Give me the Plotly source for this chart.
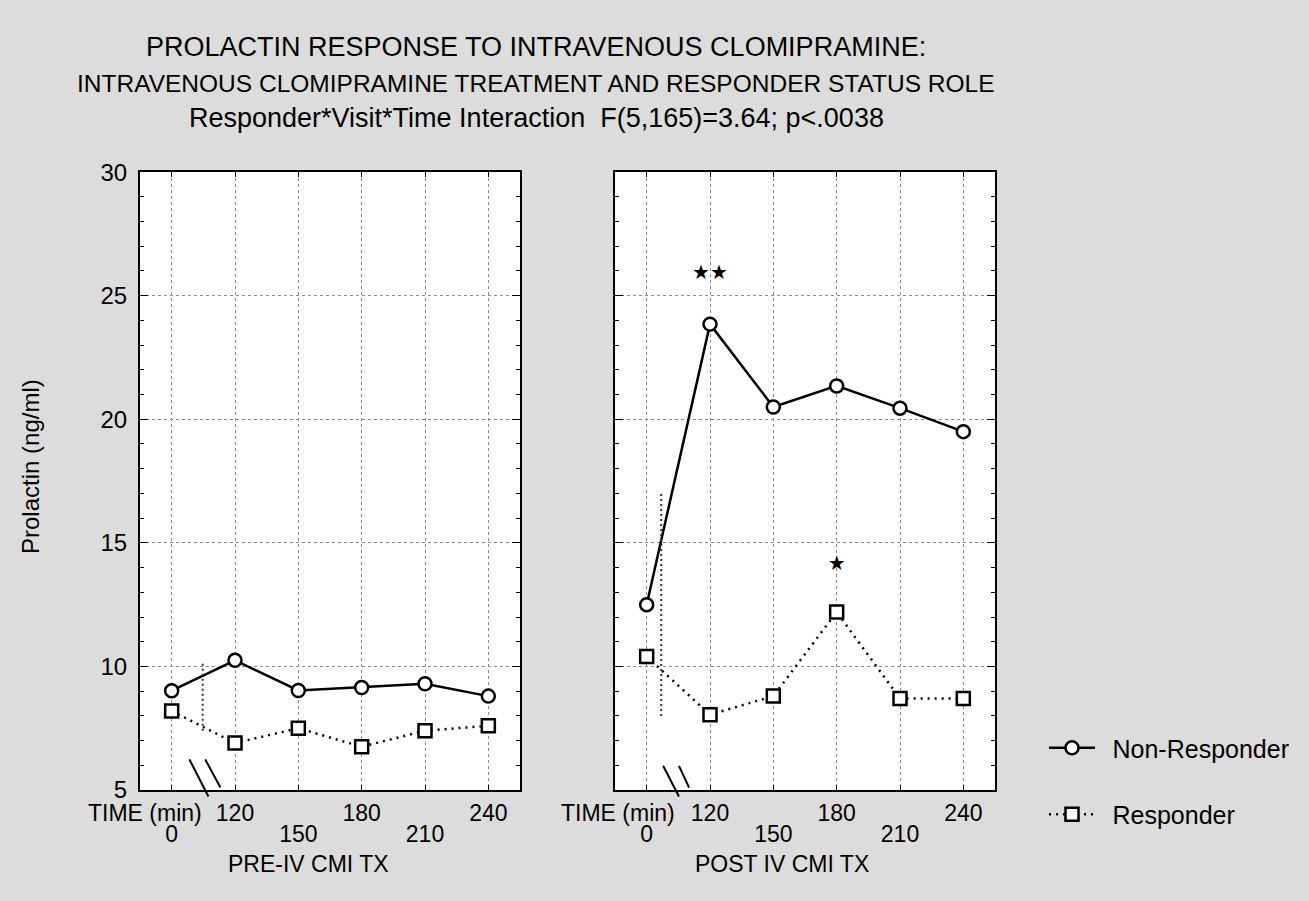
import plotly.graph_objects as go

# ---------------- data ----------------
times = [0, 120, 150, 180, 210, 240]
pre_non_responder = [9.02, 10.25, 9.03, 9.15, 9.3, 8.8]
pre_responder = [8.2, 6.9, 7.5, 6.75, 7.4, 7.6]
post_non_responder = [12.5, 23.85, 20.5, 21.35, 20.45, 19.5]
post_responder = [10.4, 8.05, 8.8, 12.2, 8.7, 8.7]

sig_times = [120, 180]
sig_values = [25.86, 14.1]
sig_text = ["★★", "★"]

title_lines = [
    "PROLACTIN RESPONSE TO INTRAVENOUS CLOMIPRAMINE:",
    "INTRAVENOUS CLOMIPRAMINE TREATMENT AND RESPONDER STATUS ROLE",
    "Responder*Visit*Time Interaction  F(5,165)=3.64; p<.0038",
]
series_names = ["Non-Responder", "Responder"]
panel_labels = ["PRE-IV CMI TX", "POST IV CMI TX"]
time_label = "TIME (min)"
y_label = "Prolactin (ng/ml)"
y_ticks = [5, 10, 15, 20, 25, 30]

# axis-break decorations (index position, value)
break_left = [((0.28, 6.24), (0.58, 4.74)), ((0.53, 6.24), (0.77, 5.1))]
break_right = [((0.26, 5.98), (0.51, 4.74)), ((0.51, 5.98), (0.67, 5.1))]
vseg_left = ((0.49, 7.4), (0.49, 10.2))
vseg_right = ((0.23, 8.0), (0.23, 17.1))

# ---------------- figure ----------------
pos = list(range(len(times)))
idx_of = {t: i for i, t in enumerate(times)}
W, H = 1309, 901
FONT = "Liberation Sans, Arial, sans-serif"
FS = 24
FSX = 23
YMIN, YMAX = 5, 30
GAP = "\u2002"  # spacing between legend symbol and label

fig = go.Figure()

def add_pair(nr, r, xa, ya, show):
    fig.add_trace(go.Scatter(
        x=pos, y=nr, xaxis=xa, yaxis=ya, mode="lines+markers",
        name=GAP + series_names[0], legendgroup="nr", showlegend=show,
        line=dict(color="black", width=2.5),
        marker=dict(symbol="circle", size=13, color="white",
                    line=dict(color="black", width=2.5))))
    fig.add_trace(go.Scatter(
        x=pos, y=r, xaxis=xa, yaxis=ya, mode="lines+markers",
        name=GAP + series_names[1], legendgroup="r", showlegend=show,
        line=dict(color="black", width=2.5, dash="2px,5px"),
        marker=dict(symbol="square", size=13, color="white",
                    line=dict(color="black", width=2.5))))

add_pair(pre_non_responder, pre_responder, "x", "y", True)
add_pair(post_non_responder, post_responder, "x2", "y2", False)

fig.add_trace(go.Scatter(
    x=[idx_of[t] for t in sig_times], y=sig_values, text=sig_text,
    mode="text", xaxis="x2", yaxis="y2", showlegend=False,
    textfont=dict(family="DejaVu Sans", size=20, color="black")))

# dummy traces for the overlay (second-row) tick axes
for xa in ["x3", "x4"]:
    fig.add_trace(go.Scatter(x=[None], y=[None], xaxis=xa,
                             yaxis="y" if xa == "x3" else "y2",
                             showlegend=False, hoverinfo="skip"))

dom_y = [1 - 800 / H, 1 - 163 / H]
dom_l = [140 / W, 520 / W]
dom_r = [615 / W, 995 / W]

row1 = [i for i in pos if i % 2 == 1]
row2 = [i for i in pos if i % 2 == 0]

def xaxis_main(dom, anchor):
    return dict(domain=dom, range=[-0.5, 5.5], anchor=anchor,
                tickmode="array", tickvals=pos,
                ticktext=[str(times[i]) if i in row1 else "" for i in pos],
                ticks="inside", ticklen=5, tickcolor="black",
                showline=True, linecolor="black", linewidth=2, mirror="ticks",
                showgrid=True, gridcolor="#8a8a8a", gridwidth=1, griddash="dot",
                zeroline=False, tickfont=dict(family=FONT, size=FSX, color="black"),
                ticklabelstandoff=1)

def xaxis_row2(dom, anchor, over):
    return dict(domain=dom, range=[-0.5, 5.5], anchor=anchor, overlaying=over,
                side="bottom", tickmode="array", tickvals=row2,
                ticktext=[str(times[i]) for i in row2], ticks="",
                showline=False, showgrid=False, zeroline=False,
                tickfont=dict(family=FONT, size=FSX, color="black"),
                ticklabelstandoff=28)

def yaxis(anchor, labels):
    return dict(domain=dom_y, range=[YMIN, YMAX], anchor=anchor,
                tickmode="array", tickvals=y_ticks, showticklabels=labels,
                ticks="inside", ticklen=8, tickcolor="black",
                minor=dict(dtick=1, ticks="inside", ticklen=4, tickcolor="black", showgrid=False),
                showline=True, linecolor="black", linewidth=2, mirror="ticks",
                showgrid=True, gridcolor="#8a8a8a", gridwidth=1, griddash="dot",
                zeroline=False, tickfont=dict(family=FONT, size=FS, color="black"),
                ticklabelstandoff=6)

fig.update_layout(
    width=W, height=H, margin=dict(l=0, r=0, t=0, b=0),
    paper_bgcolor="#dcdcdc", plot_bgcolor="white",
    xaxis=xaxis_main(dom_l, "y"), xaxis2=xaxis_main(dom_r, "y2"),
    xaxis3=xaxis_row2(dom_l, "y", "x"), xaxis4=xaxis_row2(dom_r, "y2", "x2"),
    yaxis=yaxis("x", True), yaxis2=yaxis("x2", False),
    showlegend=True,
    legend=dict(x=1044 / W, y=1 - 733 / H, xanchor="left", yanchor="top",
                bgcolor="rgba(0,0,0,0)", font=dict(family=FONT, size=25, color="black"),
                itemwidth=46, tracegroupgap=31),
)

def to_dom(v):
    return (v - YMIN) / (YMAX - YMIN)

shapes = []
for xr, segs in [("x", break_left), ("x2", break_right)]:
    for (x0, y0), (x1, y1) in segs:
        shapes.append(dict(type="line", xref=xr, yref=("y domain" if xr == "x" else "y2 domain"),
                           x0=x0, y0=to_dom(y0), x1=x1, y1=to_dom(y1),
                           line=dict(color="black", width=2)))
for xr, yr, ((x0, y0), (x1, y1)) in [("x", "y", vseg_left), ("x2", "y2", vseg_right)]:
    shapes.append(dict(type="line", xref=xr, yref=yr, x0=x0, y0=y0, x1=x1, y1=y1,
                       line=dict(color="#333", width=2, dash="2px,3px")))
fig.update_layout(shapes=shapes)

ann = []
for txt, ypx, fs in zip(title_lines, [34, 72, 107], [27, 24.5, 27]):
    ann.append(dict(text=txt, x=536 / W, y=1 - ypx / H, xref="paper", yref="paper",
                    showarrow=False, xanchor="center", yanchor="middle",
                    font=dict(family=FONT, size=fs, color="black")))
ann.append(dict(text=y_label, x=30 / W, y=1 - 467 / H, xref="paper", yref="paper",
                showarrow=False, textangle=-90, xanchor="center", yanchor="middle",
                font=dict(family=FONT, size=FS, color="black")))
for xr_px in [204, 677]:
    ann.append(dict(text=time_label, x=xr_px / W, y=1 - 824 / H, xref="paper", yref="paper",
                    showarrow=False, xanchor="right", yanchor="middle",
                    font=dict(family=FONT, size=FSX, color="black")))
for txt, xc in zip(panel_labels, [308, 782]):
    ann.append(dict(text=txt, x=xc / W, y=1 - 876 / H, xref="paper", yref="paper",
                    showarrow=False, xanchor="center", yanchor="middle",
                    font=dict(family=FONT, size=FSX, color="black")))
fig.update_layout(annotations=ann)

fig.write_html("out.html", config={"displayModeBar": False},
               post_script="document.body.style.margin='0';document.body.style.overflow='hidden';")
